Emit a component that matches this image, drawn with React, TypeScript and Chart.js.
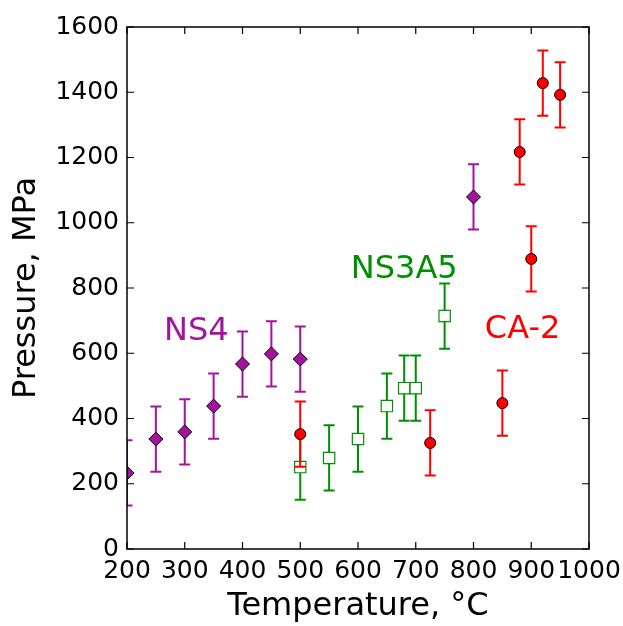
import React, { useEffect, useRef } from 'react';
import { Chart, registerables } from 'chart.js';

Chart.register(...registerables);

// ---- data ----
const ns4Temp = [200, 250, 300, 350, 400, 450, 500, 800];
const ns4Pres = [233, 337, 359, 438, 567, 598, 582, 1079];
const ns4Err = [100, 100, 100, 100, 100, 100, 100, 100];

const ns3a5Temp = [500, 550, 600, 650, 680, 700, 750];
const ns3a5Pres = [251, 279, 337, 438, 493, 493, 714];
const ns3a5Err = [100, 100, 100, 100, 100, 100, 100];

const ca2Temp = [500, 725, 850, 880, 900, 920, 950];
const ca2Pres = [352, 325, 447, 1217, 889, 1428, 1392];
const ca2Err = [100, 100, 100, 100, 100, 100, 100];

const xTickValues = [200, 300, 400, 500, 600, 700, 800, 900, 1000];
const yTickValues = [0, 200, 400, 600, 800, 1000, 1200, 1400, 1600];

const labelTexts = ['NS4', 'NS3A5', 'CA-2'];
const labelTemp = [320, 680, 885];
const labelPres = [640, 831, 647];

const PURPLE = '#a3139e';
const GREEN = '#008f00';
const RED = '#ff0000';
const labelColors = [PURPLE, GREEN, RED];
const FONT = "'DejaVu Sans', sans-serif";

const toPoints = (xs: number[], ys: number[]) => xs.map((x, i) => ({ x, y: ys[i] }));

// order in this list: first dataset drawn last (on top)
const errorsByDataset = [ca2Err, ns3a5Err, ns4Err];

const overlayPlugin = {
  id: 'overlay',
  beforeDatasetDraw(chart: any, args: any) {
    const ds = chart.data.datasets[args.index];
    const errs = errorsByDataset[args.index];
    const xs = chart.scales.x;
    const ys = chart.scales.y;
    const area = chart.chartArea;
    const ctx = chart.ctx;
    ctx.save();
    ctx.beginPath();
    ctx.rect(area.left, area.top, area.right - area.left, area.bottom - area.top);
    ctx.clip();
    ctx.strokeStyle = ds.errorColor;
    ctx.lineWidth = 2;
    const cap = 5.5;
    ds.data.forEach((p: any, i: number) => {
      const px = xs.getPixelForValue(p.x);
      const y1 = ys.getPixelForValue(p.y - errs[i]);
      const y2 = ys.getPixelForValue(p.y + errs[i]);
      ctx.beginPath();
      ctx.moveTo(px, y1);
      ctx.lineTo(px, y2);
      ctx.moveTo(px - cap, y1);
      ctx.lineTo(px + cap, y1);
      ctx.moveTo(px - cap, y2);
      ctx.lineTo(px + cap, y2);
      ctx.stroke();
    });
    ctx.restore();
  },
  afterDraw(chart: any) {
    const ctx = chart.ctx;
    const a = chart.chartArea;
    const xs = chart.scales.x;
    const ys = chart.scales.y;
    ctx.save();
    // labels
    ctx.font = `32px ${FONT}`;
    ctx.textAlign = 'center';
    ctx.textBaseline = 'alphabetic';
    labelTexts.forEach((t, i) => {
      ctx.fillStyle = labelColors[i];
      ctx.fillText(t, xs.getPixelForValue(labelTemp[i]), ys.getPixelForValue(labelPres[i]));
    });
    // frame
    ctx.strokeStyle = '#000';
    ctx.lineWidth = 1.5;
    ctx.strokeRect(a.left, a.top, a.right - a.left, a.bottom - a.top);
    // inward ticks
    const tl = 7;
    ctx.lineWidth = 1.2;
    ctx.beginPath();
    xTickValues.forEach((v) => {
      const px = xs.getPixelForValue(v);
      ctx.moveTo(px, a.bottom);
      ctx.lineTo(px, a.bottom - tl);
      ctx.moveTo(px, a.top);
      ctx.lineTo(px, a.top + tl);
    });
    yTickValues.forEach((v) => {
      const py = ys.getPixelForValue(v);
      ctx.moveTo(a.left, py);
      ctx.lineTo(a.left + tl, py);
      ctx.moveTo(a.right, py);
      ctx.lineTo(a.right - tl, py);
    });
    ctx.stroke();
    ctx.restore();
  },
};

export default function App() {
  const ref = useRef<HTMLCanvasElement | null>(null);

  useEffect(() => {
    if (!ref.current) return;
    const chart = new Chart(ref.current, {
      type: 'scatter',
      data: {
        datasets: [
          {
            label: 'CA-2',
            data: toPoints(ca2Temp, ca2Pres),
            pointStyle: 'circle',
            pointRadius: 5.5,
            pointHoverRadius: 5.5,
            backgroundColor: RED,
            borderColor: '#000',
            borderWidth: 1,
            clip: 0,
            errorColor: RED,
          } as any,
          {
            label: 'NS3A5',
            data: toPoints(ns3a5Temp, ns3a5Pres),
            pointStyle: 'rect',
            pointRadius: 8,
            pointHoverRadius: 8,
            backgroundColor: '#ffffff',
            borderColor: GREEN,
            borderWidth: 1.2,
            clip: 0,
            errorColor: GREEN,
          } as any,
          {
            label: 'NS4',
            data: toPoints(ns4Temp, ns4Pres),
            pointStyle: 'rectRot',
            pointRadius: 7,
            pointHoverRadius: 7,
            backgroundColor: PURPLE,
            borderColor: '#000',
            borderWidth: 1,
            clip: 0,
            errorColor: PURPLE,
          } as any,
        ],
      },
      options: {
        responsive: false,
        animation: false,
        devicePixelRatio: 1,
        layout: { padding: { top: 27, right: 34, left: 0, bottom: 0 } },
        plugins: {
          legend: { display: false },
          tooltip: { enabled: false },
        },
        events: [],
        scales: {
          x: {
            type: 'linear',
            min: 200,
            max: 1000,
            afterBuildTicks: (s: any) => {
              s.ticks = xTickValues.map((v) => ({ value: v }));
            },
            afterFit: (s: any) => {
              s.height = 77;
              s.paddingLeft = 0;
              s.paddingRight = 0;
            },
            grid: { display: false, drawTicks: false },
            border: { display: false },
            ticks: {
              padding: 7,
              maxRotation: 0,
              autoSkip: false,
              color: '#000',
              font: { size: 25, family: FONT },
              callback: (v: any) => String(v),
            },
            title: {
              display: true,
              text: 'Temperature, °C',
              color: '#000',
              font: { size: 32, family: FONT },
              padding: { top: 0, bottom: 0 },
            },
          },
          y: {
            type: 'linear',
            min: 0,
            max: 1600,
            afterBuildTicks: (s: any) => {
              s.ticks = yTickValues.map((v) => ({ value: v }));
            },
            afterFit: (s: any) => {
              s.width = 127;
              s.paddingTop = 0;
              s.paddingBottom = 0;
            },
            grid: { display: false, drawTicks: false },
            border: { display: false },
            ticks: {
              padding: 8,
              autoSkip: false,
              color: '#000',
              font: { size: 25, family: FONT },
              callback: (v: any) => String(v),
            },
            title: {
              display: true,
              text: 'Pressure, MPa',
              color: '#000',
              font: { size: 32, family: FONT },
              padding: { top: 7, bottom: 0 },
            },
          },
        },
      },
      plugins: [overlayPlugin],
    });
    return () => chart.destroy();
  }, []);

  return (
    <div style={{ position: 'fixed', left: 0, top: 0, width: 623, height: 626, background: '#fff' }}>
      <canvas ref={ref} width={623} height={626} />
    </div>
  );
}
